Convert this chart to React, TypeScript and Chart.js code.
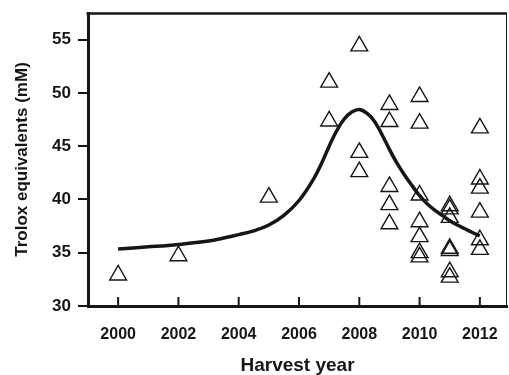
import React, { useEffect, useRef } from 'react';
import { Chart, registerables } from 'chart.js';

Chart.register(...registerables);

const INK = '#161616';

const xTickValues = [2000, 2002, 2004, 2006, 2008, 2010, 2012];
const yTickValues = [30, 35, 40, 45, 50, 55];

const pointYears = [
  2000,
  2002,
  2005,
  2007, 2007,
  2008, 2008, 2008,
  2009, 2009, 2009, 2009, 2009,
  2010, 2010, 2010, 2010, 2010, 2010, 2010,
  2011, 2011, 2011, 2011, 2011, 2011, 2011,
  2012, 2012, 2012, 2012, 2012, 2012,
];
const pointValues = [
  32.9,
  34.7,
  40.2,
  51.0, 47.35,
  54.4, 44.4, 42.6,
  48.9, 47.3, 41.2, 39.5, 37.7,
  49.65, 47.15, 40.4, 37.9, 36.5, 35.0, 34.6,
  39.4, 39.1, 38.3, 35.4, 35.2, 33.2, 32.7,
  46.7, 41.9, 41.05, 38.8, 36.2, 35.3,
];

const curveYears = [
  2000, 2001, 2002, 2003, 2003.5, 2004, 2004.5, 2005, 2005.5, 2006, 2006.5,
  2006.75, 2007, 2007.25, 2007.5, 2007.75, 2008, 2008.25, 2008.5, 2008.75,
  2009, 2009.25, 2009.5, 2009.75, 2010, 2010.25, 2010.5, 2010.75, 2011,
  2011.25, 2011.5, 2011.75, 2012,
];
const curveValues = [
  35.35, 35.55, 35.78, 36.1, 36.38, 36.7, 37.05, 37.6, 38.5, 39.9, 42.0,
  43.4, 45.0, 46.45, 47.55, 48.2, 48.45, 48.1, 47.35, 46.1,
  44.7, 43.4, 42.3, 41.3, 40.35, 39.6, 39.0, 38.5, 38.0,
  37.6, 37.25, 36.9, 36.6,
];

const frameAndTicks = {
  id: 'frameAndTicks',
  afterDraw(chart: any) {
    const { ctx, chartArea } = chart;
    const xs = chart.scales.x;
    ctx.save();
    ctx.strokeStyle = INK;
    // inward x ticks
    ctx.lineWidth = 2;
    xTickValues.forEach((v) => {
      const px = xs.getPixelForValue(v);
      ctx.beginPath();
      ctx.moveTo(px, chartArea.bottom);
      ctx.lineTo(px, chartArea.bottom - 9);
      ctx.stroke();
    });
    // top border
    ctx.lineWidth = 2.5;
    ctx.beginPath();
    ctx.moveTo(chartArea.left - 1.5, chartArea.top + 0.5);
    ctx.lineTo(chartArea.right, chartArea.top + 0.5);
    ctx.stroke();
    // right border
    ctx.lineWidth = 1;
    ctx.beginPath();
    ctx.moveTo(chartArea.right - 0.5, chartArea.top);
    ctx.lineTo(chartArea.right - 0.5, chartArea.bottom);
    ctx.stroke();
    ctx.restore();
  },
};

export default function App() {
  const ref = useRef<HTMLCanvasElement | null>(null);

  useEffect(() => {
    if (!ref.current) return;
    const chart = new Chart(ref.current, {
      type: 'scatter',
      data: {
        datasets: [
          {
            label: 'fit',
            data: curveYears.map((x, i) => ({ x, y: curveValues[i] })),
            showLine: true,
            borderColor: INK,
            borderWidth: 3.5,
            pointRadius: 0,
            tension: 0.4,
            order: 0,
          } as any,
          {
            label: 'samples',
            data: pointYears.map((x, i) => ({ x, y: pointValues[i] })),
            pointStyle: 'triangle',
            pointRadius: 9.7,
            pointBorderWidth: 1.4,
            pointBorderColor: INK,
            pointBackgroundColor: 'rgba(0,0,0,0)',
            order: 1,
          } as any,
        ],
      },
      options: {
        animation: false,
        responsive: false,
        layout: { autoPadding: false, padding: { left: 0, right: 2, top: 13, bottom: 0 } },
        plugins: { legend: { display: false }, tooltip: { enabled: false } },
        scales: {
          x: {
            type: 'linear',
            min: 1999,
            max: 2012.9,
            afterBuildTicks: (s: any) => {
              s.ticks = xTickValues.map((v) => ({ value: v }));
            },
            afterFit: (s: any) => {
              s.height = 69;
              s.paddingLeft = 0;
              s.paddingRight = 0;
            },
            grid: { display: false },
            border: { display: true, width: 3, color: INK },
            ticks: {
              padding: 11,
              color: INK,
              font: { family: "'Liberation Sans Narrow', 'Liberation Sans', Arial, sans-serif", size: 16, weight: 'bold' },
              callback: (v: any) => String(v),
            },
            title: {
              display: true,
              text: 'Harvest year',
              color: INK,
              padding: { top: 0, bottom: 0 },
              font: { family: "'Liberation Sans', Arial, sans-serif", size: 19, weight: 'bold', lineHeight: 1 },
            },
          },
          y: {
            type: 'linear',
            min: 30,
            max: 57.5,
            afterBuildTicks: (s: any) => {
              s.ticks = yTickValues.map((v) => ({ value: v }));
            },
            afterFit: (s: any) => {
              s.width = 88;
              s.paddingTop = 0;
              s.paddingBottom = 0;
            },
            grid: { drawOnChartArea: false, drawTicks: true, tickLength: 10, lineWidth: 2, color: INK },
            border: { display: true, width: 3, color: INK },
            ticks: {
              padding: 7,
              color: INK,
              font: { family: "'Liberation Sans', Arial, sans-serif", size: 17, weight: 'bold' },
              callback: (v: any) => String(v),
            },
            title: {
              display: true,
              text: 'Trolox equivalents (mM)',
              color: INK,
              padding: { top: 14, bottom: 0 },
              font: { family: "'Liberation Sans', Arial, sans-serif", size: 17, weight: 'bold', lineHeight: 1 },
            },
          },
        },
      },
      plugins: [frameAndTicks],
    });
    return () => chart.destroy();
  }, []);

  return (
    <div style={{ position: 'fixed', left: 0, top: 0, width: 509, height: 375, background: '#fff' }}>
      <canvas ref={ref} width={509} height={375} style={{ width: 509, height: 375, display: 'block' }} />
    </div>
  );
}
